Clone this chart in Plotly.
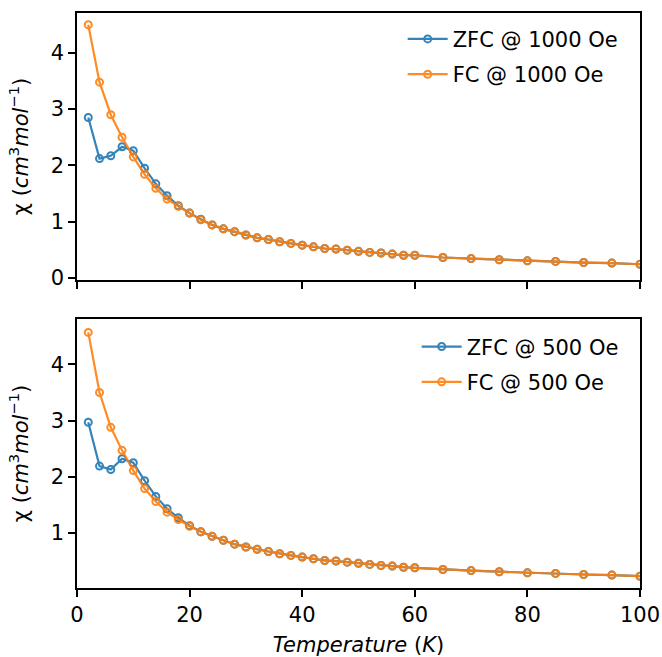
import plotly.graph_objects as go
from plotly.subplots import make_subplots

# Temperatures (K)
temperature = [2, 4, 6, 8, 10, 12, 14, 16, 18, 20, 22, 24, 26, 28, 30, 32, 34, 36, 38, 40,
               42, 44, 46, 48, 50, 52, 54, 56, 58, 60, 65, 70, 75, 80, 85, 90, 95, 100]

# 1000 Oe
zfc_1000 = [2.85, 2.12, 2.17, 2.33, 2.26, 1.95, 1.67, 1.46, 1.28, 1.15, 1.04, 0.94, 0.87, 0.82, 0.76, 0.71, 0.68, 0.64, 0.61, 0.58,
            0.55, 0.52, 0.51, 0.49, 0.47, 0.45, 0.44, 0.42, 0.40, 0.40, 0.36, 0.34, 0.32, 0.30, 0.29, 0.27, 0.26, 0.24]
fc_1000 = [4.50, 3.48, 2.90, 2.50, 2.15, 1.84, 1.59, 1.40, 1.27, 1.15, 1.03, 0.94, 0.87, 0.82, 0.76, 0.71, 0.68, 0.64, 0.61, 0.58,
           0.55, 0.52, 0.51, 0.49, 0.47, 0.45, 0.44, 0.42, 0.40, 0.40, 0.36, 0.34, 0.32, 0.30, 0.29, 0.27, 0.26, 0.24]

# 500 Oe
zfc_500 = [2.97, 2.19, 2.13, 2.32, 2.25, 1.93, 1.65, 1.43, 1.27, 1.13, 1.02, 0.94, 0.87, 0.80, 0.75, 0.71, 0.67, 0.63, 0.60, 0.57,
           0.54, 0.51, 0.50, 0.48, 0.46, 0.44, 0.42, 0.41, 0.39, 0.38, 0.35, 0.33, 0.31, 0.29, 0.28, 0.26, 0.25, 0.23]
fc_500 = [4.57, 3.50, 2.88, 2.47, 2.11, 1.79, 1.56, 1.37, 1.24, 1.12, 1.02, 0.94, 0.87, 0.80, 0.75, 0.71, 0.67, 0.63, 0.60, 0.57,
          0.54, 0.51, 0.50, 0.48, 0.46, 0.44, 0.42, 0.41, 0.39, 0.38, 0.35, 0.33, 0.31, 0.29, 0.28, 0.26, 0.25, 0.23]

x_ticks = [0, 20, 40, 60, 80, 100]
BLUE = "#1f77b4"
ORANGE = "#ff7f0e"
FONT = "DejaVu Sans"
FS = 21

fig = make_subplots(rows=2, cols=1, shared_xaxes=False, vertical_spacing=0.0)

def add(y, name, color, row, legend):
    fig.add_trace(go.Scatter(
        x=temperature, y=y, name=name, mode="lines+markers",
        line=dict(color=color, width=2.2),
        marker=dict(symbol="circle-open", size=7, color=color, line=dict(width=2, color=color)),
        opacity=0.9, legend=legend, legendgroup=name,
    ), row=row, col=1)

add(zfc_1000, "ZFC @ 1000 Oe", BLUE, 1, "legend")
add(fc_1000, "FC @ 1000 Oe", ORANGE, 1, "legend")
add(zfc_500, "ZFC @ 500 Oe", BLUE, 2, "legend2")
add(fc_500, "FC @ 500 Oe", ORANGE, 2, "legend2")

axis_common = dict(
    showline=True, linecolor="black", linewidth=1.6, mirror=True,
    ticks="outside", ticklen=7, tickwidth=1.6, tickcolor="black",
    showgrid=False, zeroline=False, automargin=False,
    tickfont=dict(family=FONT, size=FS, color="black"),
)

ytitle = "χ (<i>cm</i><sup>3</sup><i>mol</i><sup>−1</sup>)"

fig.update_layout(
    width=662, height=657,
    margin=dict(l=77, r=22, t=13, b=69),
    paper_bgcolor="white", plot_bgcolor="white",
    font=dict(family=FONT, size=FS, color="black"),
    xaxis=dict(domain=[0, 1], range=[0, 100], tickvals=x_ticks, showticklabels=False, anchor="y", **axis_common),
    xaxis2=dict(domain=[0, 1], range=[0, 100], tickvals=x_ticks, anchor="y2",
                title=dict(text="<i>Temperature</i> (<i>K</i>)", font=dict(family=FONT, size=FS), standoff=12),
                **axis_common),
    yaxis=dict(domain=[0.5357, 1.0], range=[-0.04, 4.71], tickvals=[0, 1, 2, 3, 4], anchor="x",
               title=dict(text=ytitle, font=dict(family=FONT, size=FS), standoff=16),
               **axis_common),
    yaxis2=dict(domain=[0, 0.468], range=[0.02, 4.81], tickvals=[1, 2, 3, 4], anchor="x2",
                title=dict(text=ytitle, font=dict(family=FONT, size=FS), standoff=16),
                **axis_common),
    legend=dict(x=0.971, y=0.99, xanchor="right", yanchor="top", bgcolor="rgba(255,255,255,0)",
                font=dict(family=FONT, size=FS), itemwidth=40, tracegroupgap=5),
    legend2=dict(x=0.971, y=0.455, xanchor="right", yanchor="top", bgcolor="rgba(255,255,255,0)",
                 font=dict(family=FONT, size=FS), itemwidth=40, tracegroupgap=5),
)

fig.write_html("out.html", config={"displayModeBar": False},
               post_script="document.body.style.margin='0';")
